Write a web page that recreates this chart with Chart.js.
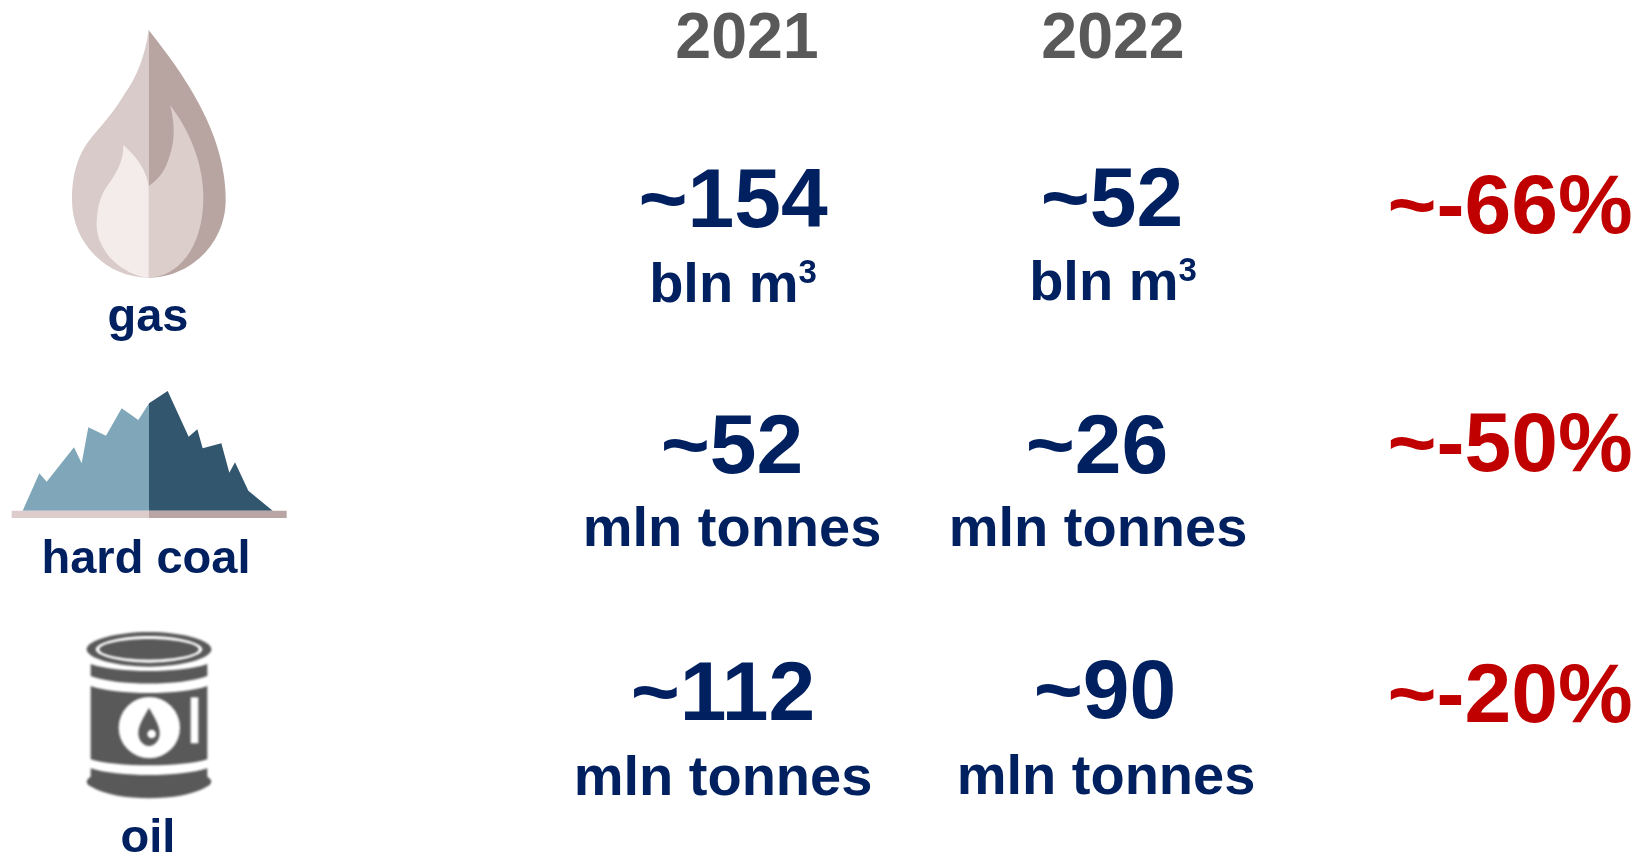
<!DOCTYPE html>
<html>
<head>
<meta charset="utf-8">
<title>Fuel imports</title>
<style>
  html, body { margin: 0; padding: 0; background: #fff; }
  canvas { display: block; }
</style>
<script src="https://cdn.jsdelivr.net/npm/chart.js@4"></script>
</head>
<body>
<canvas id="imports" width="1638" height="856"></canvas>
<script>
// values
const fuels = ['gas', 'hard coal', 'oil'];
const years = ['2021', '2022'];
const units = ['bln m', 'mln tonnes', 'mln tonnes'];
const values2021 = [154, 52, 112];
const values2022 = [52, 26, 90];
const changePct = [-66, -50, -20];

// where each column sits on the scales (x, then baseline y)
const x2021 = [733, 732, 723];
const x2022 = [1112, 1097, 1105];
const xChange = [1510, 1510, 1510];
const y2021 = [227, 473, 720];
const y2022 = [226, 473, 718];
const yChange = [233, 471, 722];
const xUnit2021 = [733, 732, 723];
const xUnit2022 = [1113, 1098, 1106];
const yUnit2021 = [302, 546, 795];
const yUnit2022 = [300, 546, 794];
const xFuel = [148, 146, 148];
const yFuel = [331, 573, 852];
const xYear = [747, 1113];
const yYear = [58, 58];

const NAVY = '#002060';
const RED = '#c00000';
const GREY = '#595959';
const FONT = '"Liberation Sans", Arial, sans-serif';

function points(xs, ys) {
  return xs.map((x, i) => ({ x: x, y: ys[i] }));
}

// icons, drawn at 3 units per axis unit
const flame = [
  ['#d9cbc9', 'M446 60 C435 140 410 200 375 250 C345 300 315 335 285 370 C240 420 216 480 216 570 C216 700 320 803 446 803 Z'],
  ['#b8a5a2', 'M446 60 C540 180 677 360 677 570 C677 700 570 803 446 803 Z'],
  ['#dccecb', 'M510 285 C530 360 520 410 505 450 C490 495 465 515 446 528 L446 803 C530 800 610 720 610 560 C610 450 560 350 510 285 Z'],
  ['#f4ecea', 'M370 405 C372 450 350 490 320 530 C295 565 290 610 290 650 C295 730 370 795 446 803 L446 530 C440 480 410 440 370 405 Z']
];
const mountain = [
  ['#7fa6b9', 'M68 422 L118 310 L140 335 L222 232 L245 280 L265 172 L318 197 L365 115 L415 150 L447 100 L447 422 Z'],
  ['#33566f', 'M447 100 L503 63 L566 200 L592 178 L608 235 L664 220 L688 308 L705 277 L745 362 L818 422 L447 422 Z'],
  ['#dccccb', 'M35 422 H447 V444 H35 Z'],
  ['#b9a5a4', 'M447 422 H860 V444 H447 Z']
];
const barrel = [
  [GREY, 'M80 88 C80 60 170 36 267 36 C364 36 454 60 454 88 C454 116 364 140 267 140 C170 140 80 116 80 88 Z'],
  ['#ffffff', 'M107 88 C107 66 190 48 267 48 C344 48 427 66 427 88 C427 110 344 128 267 128 C190 128 107 110 107 88 Z'],
  [GREY, 'M118 88 C118 70 195 57 267 57 C339 57 416 70 416 88 C416 106 339 119 267 119 C195 119 118 106 118 88 Z'],
  [GREY, 'M92 132 C170 160 364 160 442 132 V168 C364 198 170 198 92 168 Z'],
  [GREY, 'M92 198 C170 226 364 226 442 198 V418 C364 442 170 442 92 418 Z'],
  ['#ffffff', 'M176 323 A92 92 0 1 0 360 323 A92 92 0 1 0 176 323 Z'],
  ['#ffffff', 'M392 232 H415 V370 H392 Z'],
  [GREY, 'M267 263 C250 295 235 315 235 340 C235 362 250 378 267 378 C284 378 299 362 299 340 C299 315 284 295 267 263 Z'],
  ['#ffffff', 'M262 342 A13 13 0 1 0 288 342 A13 13 0 1 0 262 342 Z'],
  [GREY, 'M92 445 C170 472 364 472 442 445 V470 C458 480 458 492 440 500 C364 546 170 546 94 500 C76 492 76 480 92 470 Z']
];

function drawIcon(ctx, chart, shapes, left, top, blur) {
  const sx = chart.scales.x.getPixelForValue(left);
  const sy = chart.scales.y.getPixelForValue(top);
  ctx.save();
  ctx.translate(sx, sy);
  ctx.scale(1 / 3, 1 / 3);
  if (blur) ctx.filter = 'blur(' + blur + 'px)';
  shapes.forEach(s => {
    ctx.fillStyle = s[0];
    ctx.fill(new Path2D(s[1]));
  });
  ctx.restore();
}

function drawText(ctx, text, x, y, size, color, align) {
  ctx.font = 'bold ' + size + 'px ' + FONT;
  ctx.fillStyle = color;
  ctx.textAlign = align || 'center';
  ctx.textBaseline = 'alphabetic';
  ctx.fillText(text, x, y);
}

// "bln m" + raised 3 for the gas row
function drawUnit(ctx, fuelIndex, x, y) {
  const label = units[fuelIndex];
  if (fuelIndex !== 0) {
    drawText(ctx, label, x, y, 56, NAVY);
    return;
  }
  ctx.font = 'bold 56px ' + FONT;
  const w = ctx.measureText(label).width;
  ctx.font = 'bold 33px ' + FONT;
  const sup = ctx.measureText('3').width;
  const left = x - (w + sup) / 2;
  drawText(ctx, label, left, y, 56, NAVY, 'left');
  drawText(ctx, '3', left + w, y - 19, 33, NAVY, 'left');
}

const labelPlugin = {
  id: 'labels',
  afterDatasetsDraw(chart) {
    const ctx = chart.ctx;
    const sx = chart.scales.x;
    const sy = chart.scales.y;

    drawIcon(ctx, chart, flame, 0, 10);
    drawIcon(ctx, chart, mountain, 0, 370);
    drawIcon(ctx, chart, barrel, 60, 620, 0.8);

    years.forEach((y, i) => {
      drawText(ctx, y, sx.getPixelForValue(xYear[i]), sy.getPixelForValue(yYear[i]), 64.5, GREY);
    });
    fuels.forEach((f, i) => {
      drawText(ctx, f, sx.getPixelForValue(xFuel[i]), sy.getPixelForValue(yFuel[i]), 47, NAVY);
      drawUnit(ctx, i, sx.getPixelForValue(xUnit2021[i]), sy.getPixelForValue(yUnit2021[i]));
      drawUnit(ctx, i, sx.getPixelForValue(xUnit2022[i]), sy.getPixelForValue(yUnit2022[i]));
    });

    // the number columns sit on the dataset points
    chart.data.datasets.forEach((ds, d) => {
      chart.getDatasetMeta(d).data.forEach((pt, i) => {
        const suffix = ds.suffix || '';
        drawText(ctx, '~' + ds.values[i] + suffix, pt.x, pt.y, ds.fontSize, ds.textColor);
      });
    });
  }
};

new Chart(document.getElementById('imports'), {
  type: 'scatter',
  data: {
    datasets: [
      { label: years[0], data: points(x2021, y2021), values: values2021, fontSize: 84, textColor: NAVY },
      { label: years[1], data: points(x2022, y2022), values: values2022, fontSize: 84, textColor: NAVY },
      { label: 'change', data: points(xChange, yChange), values: changePct, suffix: '%', fontSize: 84, textColor: RED }
    ]
  },
  options: {
    responsive: false,
    animation: false,
    layout: { padding: 0 },
    elements: { point: { radius: 0, hoverRadius: 0 } },
    plugins: { legend: { display: false }, tooltip: { enabled: false } },
    scales: {
      x: { type: 'linear', min: 0, max: 1638, display: false },
      y: { type: 'linear', min: 0, max: 856, reverse: true, display: false }
    }
  },
  plugins: [labelPlugin]
});
</script>
</body>
</html>
